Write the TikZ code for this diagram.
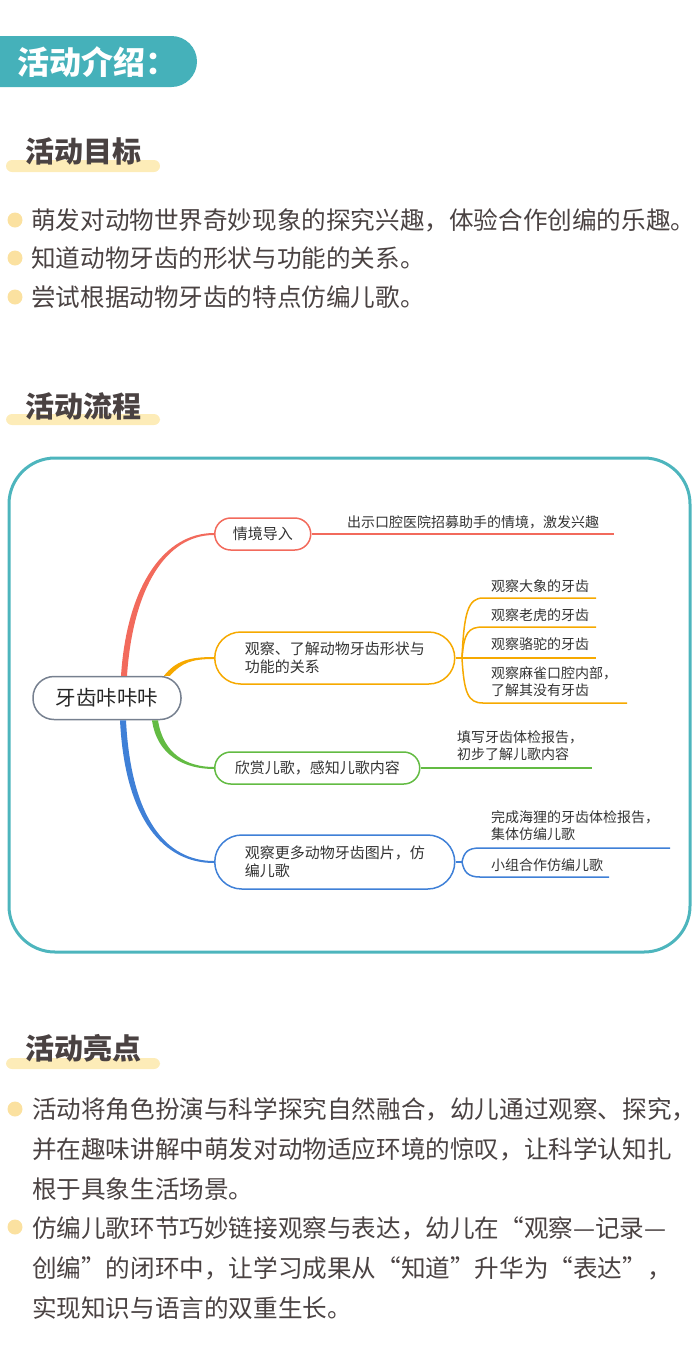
\documentclass[tikz,border=0pt]{standalone}
\usepackage{fontspec}
\setmainfont{Noto Sans CJK SC}
\usetikzlibrary{positioning}
\definecolor{headteal}{HTML}{45B1BA}
\definecolor{boxteal}{HTML}{4DB5BD}
\definecolor{baryellow}{HTML}{FDECB8}
\definecolor{dotyellow}{HTML}{FBE1A0}
\definecolor{textgray}{HTML}{4A4242}
\definecolor{rootgray}{HTML}{76808F}
\definecolor{mmred}{HTML}{F26A5C}
\definecolor{mmorange}{HTML}{F6A900}
\definecolor{mmgreen}{HTML}{63BB43}
\definecolor{mmblue}{HTML}{3F80D7}
\begin{document}
\begin{tikzpicture}[x=1pt, y=-1pt,
    sec-title/.style = {anchor=west, inner sep=0, text=textgray,
      font=\fontsize{29}{32}\selectfont\bfseries},
    sec-bar/.style = {fill=baryellow, rounded corners=6pt},
    bullet-dot/.style = {circle, fill=dotyellow, minimum size=15pt, inner sep=0},
    bullet-text/.style = {anchor=west, inner sep=0, align=left, text=textgray,
      font=\fontsize{24.6}{40}\selectfont},
    root/.style = {rectangle, draw=rootgray, line width=1.5pt,
      rounded corners=21pt, minimum width=148pt, minimum height=43pt,
      text=black!85, font=\fontsize{20.5}{24}\selectfont},
    topic/.style = {rectangle, line width=1.5pt, anchor=west, align=left,
      text=black!80, font=\fontsize{15}{18}\selectfont},
    leaf/.style = {anchor=west, inner sep=0, align=left, text=black!80,
      font=\fontsize{14}{17}\selectfont},
    twig/.style = {line width=1.5pt}]

  \useasboundingbox (0,0) rectangle (700,1361);

  % header
  \fill[headteal, rounded corners=25.5pt] (-40,36) rectangle (197,87);
  \node[anchor=west, inner sep=0, text=white,
    font=\fontsize{32}{36}\selectfont\bfseries] (head) at (17,62) {活动介绍：};

  % goals
  \fill[sec-bar] (6,160) rectangle (160,172);
  \node[sec-title] (goals) at (25,151) {活动目标};
  \node[bullet-dot] (g1dot) at (15,220) {};
  \node[bullet-text] (g1) at (31,220) {萌发对动物世界奇妙现象的探究兴趣，体验合作创编的乐趣。};
  \node[bullet-dot] (g2dot) at (15,258) {};
  \node[bullet-text] (g2) at (31,258) {知道动物牙齿的形状与功能的关系。};
  \node[bullet-dot] (g3dot) at (15,297) {};
  \node[bullet-text] (g3) at (31,297) {尝试根据动物牙齿的特点仿编儿歌。};

  % flow
  \fill[sec-bar] (6,414) rectangle (160,425);
  \node[sec-title] (flow) at (25,406) {活动流程};
  \draw[boxteal, line width=3pt, rounded corners=46pt] (9,458) rectangle (690,952);

  \node[root] (teeth) at (107,698) {牙齿咔咔咔};
  \node[topic, draw=mmred, rounded corners=16pt, minimum width=96pt,
    minimum height=32pt] (scene) at (214,534) {情境导入};
  \node[topic, draw=mmorange, rounded corners=26pt, minimum width=240pt,
    minimum height=52pt] (observe) at (214,658) {观察、了解动物牙齿形状与\\功能的关系};
  \node[topic, draw=mmgreen, rounded corners=16pt, minimum width=205pt,
    minimum height=32pt] (enjoy) at (214,768) {欣赏儿歌，感知儿歌内容};
  \node[topic, draw=mmblue, rounded corners=27pt, minimum width=240pt,
    minimum height=54pt] (more) at (214,862) {观察更多动物牙齿图片，仿\\编儿歌};

  \node[leaf] (scenetext) at (347,522) {出示口腔医院招募助手的情境，激发兴趣};
  \node[leaf] (elephant) at (491,586) {观察大象的牙齿};
  \node[leaf] (tiger) at (491,615) {观察老虎的牙齿};
  \node[leaf] (camel) at (491,644) {观察骆驼的牙齿};
  \node[leaf] (sparrow) at (491,681.5) {观察麻雀口腔内部，\\了解其没有牙齿};
  \node[leaf] (report) at (457,746) {填写牙齿体检报告，\\初步了解儿歌内容};
  \node[leaf] (beaver) at (491,826) {完成海狸的牙齿体检报告，\\集体仿编儿歌};
  \node[leaf] (group) at (491,865) {小组合作仿编儿歌};

  \coordinate (sceneend) at (614,534);
  \coordinate (ofork) at (462,658);
  \coordinate (o1a) at (483,598);  \coordinate (o1b) at (596,598);
  \coordinate (o2a) at (483,627);  \coordinate (o2b) at (596,627);
  \coordinate (o3b) at (596,658);
  \coordinate (o4a) at (483,703);  \coordinate (o4b) at (627,703);
  \coordinate (enjoyend) at (592,768);
  \coordinate (bfork) at (462,862);
  \coordinate (b1a) at (480,848);  \coordinate (b1b) at (670,848);
  \coordinate (b2a) at (480,877);  \coordinate (b2b) at (609,877);

  % connect all nodes defined above (main branches taper towards the topics)
  \fill[mmred] ([xshift=14pt]teeth.north) .. controls +(6,-90) and +(-50,0) .. ([yshift=1pt]scene.west)
    -- ([yshift=-1pt]scene.west) .. controls +(-48,0) and +(6,-88) .. ([xshift=20pt]teeth.north) -- cycle;
  \fill[mmorange] ([xshift=57pt]teeth.north) .. controls +(12,-15) and +(-25,0) .. ([yshift=1pt]observe.west)
    -- ([yshift=-1pt]observe.west) .. controls +(-23,0) and +(12,-13) .. ([xshift=63pt]teeth.north) -- cycle;
  \fill[mmgreen] ([xshift=45pt]teeth.south) .. controls +(5,35) and +(-30,0) .. ([yshift=-1pt]enjoy.west)
    -- ([yshift=1pt]enjoy.west) .. controls +(-28,0) and +(5,33) .. ([xshift=51pt]teeth.south) -- cycle;
  \fill[mmblue] ([xshift=13pt]teeth.south) .. controls +(5,100) and +(-50,0) .. ([yshift=-1pt]more.west)
    -- ([yshift=1pt]more.west) .. controls +(-48,0) and +(5,98) .. ([xshift=19pt]teeth.south) -- cycle;
  \draw[twig, mmred] (scene.east) -- (sceneend);
  \draw[twig, mmorange] (observe.east) -- (ofork) -- (o3b);
  \draw[twig, mmorange] (ofork) .. controls +(2,-45) and +(-15,0) .. (o1a) -- (o1b);
  \draw[twig, mmorange] (ofork) .. controls +(2,-25) and +(-15,0) .. (o2a) -- (o2b);
  \draw[twig, mmorange] (ofork) .. controls +(2,35) and +(-15,0) .. (o4a) -- (o4b);
  \draw[twig, mmgreen] (enjoy.east) -- (enjoyend);
  \draw[twig, mmblue] (more.east) -- (bfork);
  \draw[twig, mmblue] (bfork) .. controls +(2,-10) and +(-12,0) .. (b1a) -- (b1b);
  \draw[twig, mmblue] (bfork) .. controls +(2,10) and +(-12,0) .. (b2a) -- (b2b);

  % highlights
  \fill[sec-bar] (6,1058) rectangle (160,1069);
  \node[sec-title] (highlights) at (25,1048) {活动亮点};
  \node[bullet-dot] (h1dot) at (15,1109) {};
  \node[bullet-text] (h1) at (32,1149) {活动将角色扮演与科学探究自然融合，幼儿通过观察、探究，\\并在趣味讲解中萌发对动物适应环境的惊叹，让科学认知扎\\根于具象生活场景。};
  \node[bullet-dot] (h2dot) at (15,1227) {};
  \node[bullet-text] (h2) at (32,1268) {仿编儿歌环节巧妙链接观察与表达，幼儿在“观察—记录—\\创编”的闭环中，让学习成果从“知道”升华为“表达”，\\实现知识与语言的双重生长。};
\end{tikzpicture}
\end{document}
